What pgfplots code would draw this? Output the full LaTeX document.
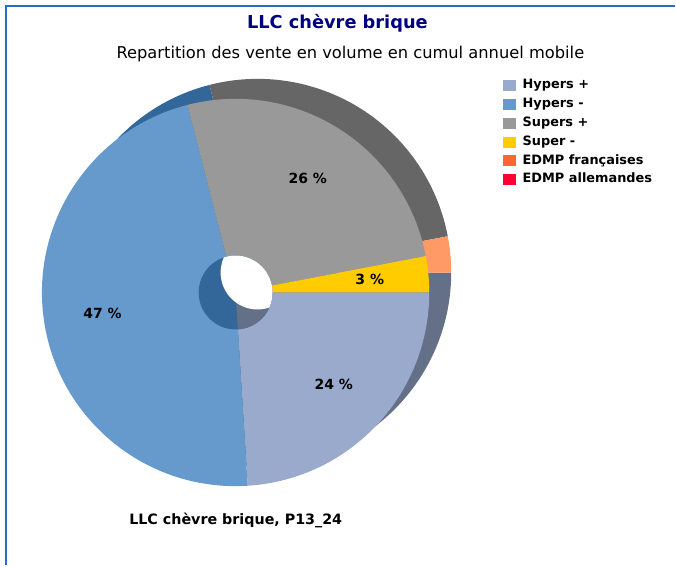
\documentclass[border=0pt]{standalone}
\usepackage{fontspec}
\setmainfont{DejaVu Sans}
\usepackage{pgfplots}
\pgfplotsset{compat=1.18}

\definecolor{hyperP}{HTML}{99AACC}
\definecolor{hyperPd}{HTML}{647088}
\definecolor{hyperM}{HTML}{6699CC}
\definecolor{hyperMd}{HTML}{336699}
\definecolor{superP}{HTML}{999999}
\definecolor{superPd}{HTML}{666666}
\definecolor{superM}{HTML}{FFCC00}
\definecolor{superMd}{HTML}{FF9966}
\definecolor{edmpF}{HTML}{FF6633}
\definecolor{edmpA}{HTML}{FF0033}
\definecolor{titleblue}{HTML}{000080}
\definecolor{frameblue}{HTML}{2A6CC6}

% shares (%)
\def\vA{24}% Hypers +
\def\vB{47}% Hypers -
\def\vC{26}% Supers +
\def\vD{3}%  Super -
\def\vE{0}%  EDMP francaises
\def\vF{0}%  EDMP allemandes

\pgfmathsetmacro{\aA}{0}
\pgfmathsetmacro{\aB}{\aA-3.6*\vA}
\pgfmathsetmacro{\aC}{\aB-3.6*\vB}
\pgfmathsetmacro{\aD}{\aC-3.6*\vC}
\pgfmathsetmacro{\aE}{\aD-3.6*\vD}
\pgfmathsetmacro{\mA}{(\aA+\aB)/2}
\pgfmathsetmacro{\mB}{(\aB+\aC)/2}
\pgfmathsetmacro{\mC}{(\aC+\aD)/2}
\pgfmathsetmacro{\mD}{(\aD+\aE)/2}

% front and back centres, radius
\def\fx{236}\def\fy{273}
\def\bx{258}\def\by{293}
\def\R{194}
\def\hr{37}

\newcommand{\pieslice}[6]{%
  \fill[#1] (axis cs:#2,#3) -- ++(#5:#4pt) arc[start angle=#5, end angle=#6, radius=#4pt] -- cycle;}

\begin{document}
\begin{tikzpicture}
\begin{axis}[x=1pt,y=1pt,xmin=0,xmax=676,ymin=0,ymax=566,
  hide axis, clip=false, scale only axis,
  legend style={at={(axis cs:504,490)}, anchor=north west, draw=none, fill=none,
    font=\bfseries\fontsize{12.9}{14}\selectfont, inner sep=0pt, row sep=0pt,
    nodes={text height=9.5pt, text depth=2.5pt, inner ysep=3.4pt, inner xsep=0pt}},
  legend cell align=left,
  legend image code/.code={\fill[#1] (0pt,-5pt) rectangle (12pt,5pt);},
  /tikz/every odd column/.append style={column sep=7pt},
]
\path (axis cs:0,0) rectangle (axis cs:676,566);
% frame
\draw[frameblue, line width=2.4pt] (axis cs:6,0) -- (axis cs:6,560) -- (axis cs:676,560);

% back face (depth)
\pieslice{hyperPd}{\bx}{\by}{\R}{\aA}{\aB}
\pieslice{hyperMd}{\bx}{\by}{\R}{\aB}{\aC}
\pieslice{superPd}{\bx}{\by}{\R}{\aC}{\aD}
\pieslice{superMd}{\bx}{\by}{\R}{\aD}{\aE}
% front face
\pieslice{hyperP}{\fx}{\fy}{\R}{\aA}{\aB}
\pieslice{hyperM}{\fx}{\fy}{\R}{\aB}{\aC}
\pieslice{superP}{\fx}{\fy}{\R}{\aC}{\aD}
\pieslice{superM}{\fx}{\fy}{\R}{\aD}{\aE}
% hole
\fill[hyperMd] (axis cs:\fx,\fy) circle[radius=\hr pt];
\pieslice{hyperPd}{\fx}{\fy}{\hr}{\aA}{\aB}
\begin{scope}
\clip (axis cs:\fx,\fy) circle[radius=\hr pt];
\fill[white] (axis cs:\bx,\by) circle[radius=\hr pt];
\end{scope}

% labels
\path (axis cs:\fx,\fy) ++(\mA:135pt) node[font=\bfseries\fontsize{14}{15}\selectfont] {\vA\ \%};
\path (axis cs:\fx,\fy) ++(\mB:135pt) node[font=\bfseries\fontsize{14}{15}\selectfont] {\vB\ \%};
\path (axis cs:\fx,\fy) ++(\mC:135pt) node[font=\bfseries\fontsize{14}{15}\selectfont] {\vC\ \%};
\path (axis cs:\fx,\fy) ++(\mD:135pt) node[font=\bfseries\fontsize{14}{15}\selectfont] {\vD\ \%};

% titles
\node[font=\bfseries\fontsize{17.8}{20}\selectfont, text=titleblue] at (axis cs:338,543) {LLC chèvre brique};
\node[font=\fontsize{16.3}{18}\selectfont] at (axis cs:351,512) {Repartition des vente en volume en cumul annuel mobile};
\node[font=\bfseries\fontsize{14.3}{16}\selectfont, anchor=west] at (axis cs:126,45) {LLC chèvre brique, P13\_24};

% legend
\addlegendimage{hyperP}\addlegendentry{Hypers +}
\addlegendimage{hyperM}\addlegendentry{Hypers -}
\addlegendimage{superP}\addlegendentry{Supers +}
\addlegendimage{superM}\addlegendentry{Super -}
\addlegendimage{edmpF}\addlegendentry{EDMP françaises}
\addlegendimage{edmpA}\addlegendentry{EDMP allemandes}
\end{axis}
\end{tikzpicture}
\end{document}
